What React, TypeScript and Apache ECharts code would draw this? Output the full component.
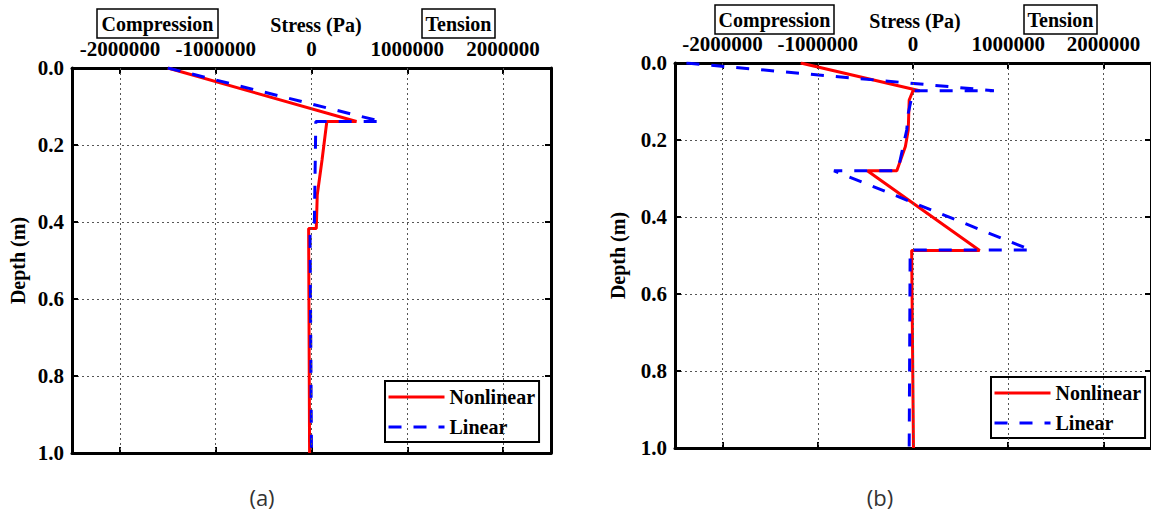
import React, { useEffect, useRef } from "react";
import * as echarts from "echarts";

// ---- Data ----
const xTickValues = [-2000000, -1000000, 0, 1000000, 2000000];

// (a)
const depthA_nonlinear = [0, 0.139, 0.139, 0.239, 0.33, 0.417, 0.417, 1.0];
const stressA_nonlinear = [-1500000, 470000, 160000, 110000, 60000, 50000, -30000, -20000];
const depthA_linear = [0, 0.139, 0.139, 0.4, 0.43, 1.0];
const stressA_linear = [-1500000, 730000, 45000, 30000, -15000, 0];

// (b)
const depthB_nonlinear = [0, 0.072, 0.072, 0.096, 0.174, 0.217, 0.28, 0.28, 0.487, 0.487, 1.0];
const stressB_nonlinear = [-1180000, 70000, 0, -40000, -50000, -80000, -170000, -480000, 700000, -14000, 5000];
const depthB_linear = [0, 0.072, 0.072, 0.131, 0.174, 0.269, 0.28, 0.28, 0.486, 0.486, 1.0];
const stressB_linear = [-2380000, 850000, 0, -50000, -66000, -150000, -200000, -830000, 1240000, -30000, -40000];

const seriesNames = ["Nonlinear", "Linear"];
const captions = ["(a)", "(b)"];

const SERIF = '"Liberation Serif", "Times New Roman", serif';

const pairs = (xs: number[], ys: number[]) => ys.map((d, i) => [xs[i], d]);

function buildOption() {
  const grids = [
    { left: 72, top: 68, width: 479, height: 385 },
    { left: 675, top: 63, width: 480, height: 385 },
  ];

  const xAxes: any[] = [];
  const yAxes: any[] = [];
  grids.forEach((_, gi) => {
    const base = {
      gridIndex: gi,
      type: "value",
      min: -2500000,
      max: 2500000,
      interval: 500000,
      splitLine: { show: false },
      axisLine: { show: true, onZero: false, lineStyle: { color: "#000", width: 3 } },
      axisTick: {
        show: true,
        inside: true,
        length: 6,
        customValues: xTickValues,
        lineStyle: { color: "#000", width: 2 },
      },
    };
    xAxes.push({
      ...base,
      position: "top",
      axisLabel: {
        show: true,
        customValues: xTickValues,
        formatter: (v: number) => String(v),
        fontFamily: SERIF,
        fontWeight: "bold",
        fontSize: 21,
        color: "#000",
        margin: 9,
      },
    });
    xAxes.push({
      ...base,
      position: "bottom",
      axisLabel: { show: false },
    });
    const ybase = {
      gridIndex: gi,
      type: "value",
      inverse: true,
      min: 0,
      max: 1,
      interval: 0.2,
      axisLine: { show: true, onZero: false, lineStyle: { color: "#000", width: 3 } },
      axisTick: { show: true, inside: true, length: 6, lineStyle: { color: "#000", width: 2 } },
    };
    yAxes.push({
      ...ybase,
      position: "left",
      name: "Depth (m)",
      nameLocation: "middle",
      nameGap: gi === 0 ? 44 : 47,
      nameRotate: 90,
      nameTextStyle: { fontFamily: SERIF, fontWeight: "bold", fontSize: 20, color: "#000" },
      axisLabel: {
        formatter: (v: number) => v.toFixed(1),
        fontFamily: SERIF,
        fontWeight: "bold",
        fontSize: 21,
        color: "#000",
        margin: 8,
      },
      splitLine: { show: true, lineStyle: { color: "#555", type: [2, 3], width: 1 } },
    });
    yAxes.push({
      ...ybase,
      position: "right",
      axisLabel: { show: false },
      splitLine: { show: false },
    });
  });

  const red = { color: "#ff0000", width: 3 };
  const blue = { color: "#0000ff", width: 3, type: [13, 12] };

  const gridLineSeries = (gi: number) => ({
    type: "line",
    name: "grid" + gi,
    xAxisIndex: gi * 2,
    yAxisIndex: gi * 2,
    data: [],
    z: 1,
    silent: true,
    markLine: {
      silent: true,
      symbol: ["none", "none"],
      label: { show: false },
      lineStyle: { color: "#555", type: [2, 3], width: 1 },
      data: xTickValues.map((v) => ({ xAxis: v })),
    },
  });

  const lineSeries = (gi: number, name: string, data: number[][], ls: any) => ({
    type: "line",
    name,
    xAxisIndex: gi * 2,
    yAxisIndex: gi * 2,
    data,
    symbol: "none",
    showSymbol: false,
    lineStyle: ls,
    itemStyle: { color: ls.color },
    z: 3,
  });

  const legendBase = {
    data: seriesNames,
    orient: "vertical",
    itemWidth: 56,
    itemHeight: 14,
    itemGap: 10,
    padding: [6, 4, 5, 2],
    borderColor: "#000",
    borderWidth: 2,
    selectedMode: false,
    itemStyle: { opacity: 0 },
    lineStyle: { width: 3 },
    textStyle: { fontFamily: SERIF, fontWeight: "bold", fontSize: 20, color: "#000" },
  };

  const boxTitle = (x: number, y: number, w: number, text: string) => [
    {
      type: "rect",
      shape: { x, y, width: w, height: 29 },
      style: { fill: "#fff", stroke: "#000", lineWidth: 1.5 },
      z: 10,
    },
    {
      type: "text",
      x: x + w / 2,
      y: y + 15,
      style: { text, font: `bold 20px ${SERIF}`, fill: "#000", align: "center", verticalAlign: "middle" },
      z: 11,
    },
  ];

  const plainText = (x: number, y: number, text: string) => ({
    type: "text",
    x,
    y,
    style: { text, font: `bold 20px ${SERIF}`, fill: "#000", align: "center", verticalAlign: "middle" },
    z: 11,
  });

  const caption = (x: number, y: number, text: string) => ({
    type: "text",
    x,
    y,
    style: { text, font: '22px "Open Sans", sans-serif', fill: "#333", align: "center", verticalAlign: "middle" },
    z: 11,
  });

  return {
    animation: false,
    backgroundColor: "#fff",
    grid: grids,
    xAxis: xAxes,
    yAxis: yAxes,
    legend: [
      { ...legendBase, left: 385, top: 381 },
      { ...legendBase, left: 991, top: 377 },
    ],
    series: [
      gridLineSeries(0),
      gridLineSeries(1),
      lineSeries(0, seriesNames[0], pairs(stressA_nonlinear, depthA_nonlinear), red),
      lineSeries(0, seriesNames[1], pairs(stressA_linear, depthA_linear), blue),
      lineSeries(1, seriesNames[0], pairs(stressB_nonlinear, depthB_nonlinear), red),
      lineSeries(1, seriesNames[1], pairs(stressB_linear, depthB_linear), blue),
    ],
    graphic: [
      ...boxTitle(97, 9, 121, "Compression"),
      plainText(316, 25, "Stress (Pa)"),
      ...boxTitle(422, 9, 73, "Tension"),
      ...boxTitle(715, 5, 119, "Compression"),
      plainText(915, 21, "Stress (Pa)"),
      ...boxTitle(1024, 5, 73, "Tension"),
      caption(262, 497, captions[0]),
      caption(880, 497, captions[1]),
    ],
  };
}

export default function App() {
  const ref = useRef<HTMLDivElement>(null);
  useEffect(() => {
    if (!ref.current) return;
    const chart = echarts.init(ref.current, undefined, { renderer: "svg" });
    chart.setOption(buildOption() as any);
    return () => chart.dispose();
  }, []);
  return (
    <div
      ref={ref}
      style={{ position: "absolute", left: 0, top: 0, width: 1151, height: 518, background: "#fff" }}
    />
  );
}
